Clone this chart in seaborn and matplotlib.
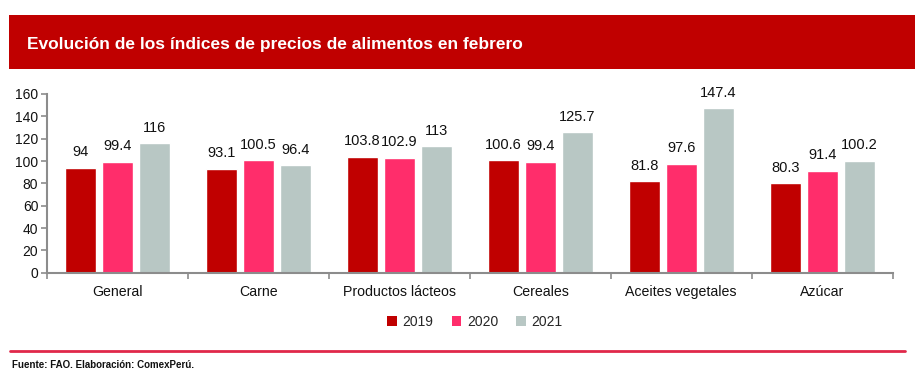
import numpy as np
import pandas as pd
import seaborn as sns
import matplotlib.pyplot as plt
from matplotlib.patches import Rectangle
from matplotlib.lines import Line2D

categories = ["General", "Carne", "Productos lácteos", "Cereales", "Aceites vegetales", "Azúcar"]
years = ["2019", "2020", "2021"]
v2019 = [94, 93.1, 103.8, 100.6, 81.8, 80.3]
v2020 = [99.4, 100.5, 102.9, 99.4, 97.6, 91.4]
v2021 = [116, 96.4, 113, 125.7, 147.4, 100.2]
colors = ["#C00000", "#FF2D6B", "#B8C7C4"]

title = "Evolución de los índices de precios de alimentos en febrero"
source = "Fuente: FAO. Elaboración: ComexPerú."

sns.set_theme(style="white")
plt.rcParams["font.family"] = ["Liberation Sans", "DejaVu Sans"]

df = pd.DataFrame({
    "cat": categories * 3,
    "year": [y for y in years for _ in categories],
    "val": v2019 + v2020 + v2021,
})

fig = plt.figure(figsize=(9.23, 3.81), dpi=100)
W, H = 923, 381

# banner
fig.patches.append(Rectangle((9 / W, 1 - 69 / H), 906 / W, 54 / H, transform=fig.transFigure,
                             facecolor="#C00000", edgecolor="none", zorder=0))
fig.text(27 / W, 1 - 44 / H, title, color="white", fontsize=12.5, fontweight="bold",
         va="center", ha="left")

ax = fig.add_axes([46.7 / W, 1 - 272.7 / H, 846 / W, (272.7 - 94) / H])
sns.barplot(data=df, x="cat", y="val", hue="year", palette=colors, width=0.785, gap=0.16,
            saturation=1, ax=ax, legend=False)
for c in ax.containers:
    ax.bar_label(c, fmt="%g", padding=6, fontsize=10.5, color="#111111")

ax.set_ylim(0, 160)
ax.set_xlim(-0.5, 5.5)
ax.set_yticks(range(0, 161, 20))
ax.set_xlabel("")
ax.set_ylabel("")
ax.set_xticks(np.arange(-0.5, 6.0, 1.0), minor=True)
ax.tick_params(axis="x", which="major", length=0, pad=9, labelsize=10.2, labelcolor="#111111")
ax.tick_params(axis="x", which="minor", length=4, width=1.2, color="#8C8C8C", direction="out", bottom=True)
ax.tick_params(axis="y", length=4, width=1.2, color="#8C8C8C", direction="out", left=True,
               labelsize=10, labelcolor="#111111", pad=2)
for s in ["top", "right"]:
    ax.spines[s].set_visible(False)
for s in ["left", "bottom"]:
    ax.spines[s].set_color("#8C8C8C")
    ax.spines[s].set_linewidth(1.5)

handles = [Rectangle((0, 0), 1, 1, facecolor=c, edgecolor="none") for c in colors]
fig.legend(handles, years, loc="center", bbox_to_anchor=(475 / W, 1 - 322 / H), ncol=3,
           frameon=False, fontsize=10, handlelength=0.7, handleheight=0.7, handletextpad=0.4,
           columnspacing=1.3)

fig.add_artist(Line2D([10 / W, 905 / W], [1 - 351 / H, 1 - 351 / H], transform=fig.transFigure,
                      color="#E0284A", linewidth=2))
fig.text(11.7 / W, 1 - 365 / H, source, fontsize=7, fontweight="bold", color="#111111",
         va="center", ha="left")

fig.savefig("out.png", dpi=100)
